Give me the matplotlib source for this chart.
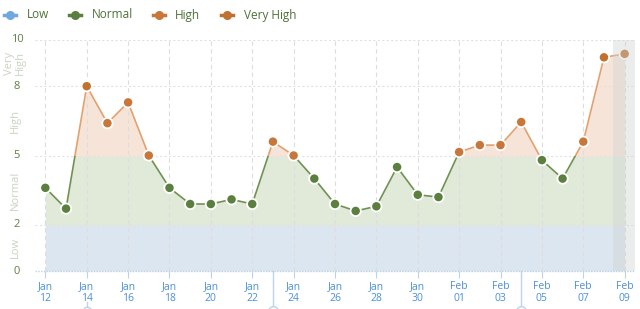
import numpy as np
import matplotlib
matplotlib.use("Agg")
import matplotlib.pyplot as plt
from matplotlib.patches import Rectangle
from matplotlib.lines import Line2D
from matplotlib.transforms import blended_transform_factory

plt.rcParams['font.family'] = ['Open Sans', 'DejaVu Sans']

# --- dados (um ponto por dia, 12 jan -> 09 fev) ---
day_labels = ['Jan\n12', 'Jan\n13', 'Jan\n14', 'Jan\n15', 'Jan\n16', 'Jan\n17', 'Jan\n18',
              'Jan\n19', 'Jan\n20', 'Jan\n21', 'Jan\n22', 'Jan\n23', 'Jan\n24', 'Jan\n25',
              'Jan\n26', 'Jan\n27', 'Jan\n28', 'Jan\n29', 'Jan\n30', 'Jan\n31', 'Feb\n01',
              'Feb\n02', 'Feb\n03', 'Feb\n04', 'Feb\n05', 'Feb\n06', 'Feb\n07', 'Feb\n08',
              'Feb\n09']
values = [3.6, 2.7, 8.0, 6.4, 7.3, 5.0, 3.6, 2.9, 2.9, 3.1, 2.9, 5.6, 5.0, 4.0,
          2.9, 2.6, 2.8, 4.5, 3.3, 3.2, 5.15, 5.45, 5.45, 6.45, 4.8, 4.0, 5.6, 9.25, 9.4]

# faixas: nome, limite inferior, limite superior
band_names = ['Low', 'Normal', 'High', 'Very High']
band_low = [0, 2, 5, 8]
band_high = [2, 5, 8, 10]
band_axis_labels = ['Low', 'Normal', 'High', 'Very\nHigh']
y_ticks = [0, 2, 5, 8, 10]
event_days = [11, 23]   # marcadores verticais
small_event_days = [2]

# --- estilos ---
fill_colors = ['#dce6f0', '#e1e9d9', '#f6e4d8', '#f6e4d8']
marker_colors = ['#6fa8dc', '#5b7f3f', '#c8763a', '#c0702f']
line_green = '#6f9253'
line_orange = '#e3a16f'
tick_blue = '#4a90d9'
num_green = '#5d8040'
band_txt = '#c9d3c3'

x = np.arange(len(values))
y = np.array(values)

fig = plt.figure(figsize=(6.4, 3.09), dpi=100)
ax = fig.add_axes([35 / 640, (309 - 271) / 309, 600 / 640, 231 / 309])
ax.set_xlim(-0.5, len(values) - 0.5)
ax.set_ylim(0, 10)

# preenchimento por faixa (recortado por retângulo)
for lo, hi, c in zip(band_low, band_high, fill_colors):
    poly = ax.fill_between(x, 0, y, color=c, lw=0, zorder=1)
    clip = Rectangle((-1, lo), len(values) + 2, hi - lo, transform=ax.transData)
    poly.set_clip_path(clip)

# linha colorida pelo limiar de 5
for lo, hi, c in [(0, 5, line_green), (5, 10, line_orange)]:
    ln, = ax.plot(x, y, color=c, lw=1.2, zorder=3)
    ln.set_clip_path(Rectangle((-1, lo), len(values) + 2, hi - lo, transform=ax.transData))

# pontos
def band_index(v):
    for i, hi in enumerate(band_high):
        if v < hi:
            return i
    return len(band_high) - 1

pt_colors = [marker_colors[band_index(v)] for v in values]
ax.scatter(x, y, s=55, c=pt_colors, edgecolors='white', linewidths=1.3, zorder=4)

# região destacada à direita
ax.axvspan(len(values) - 1.55, len(values) - 0.5, color='#cfd4d4', alpha=0.4, lw=0, zorder=5)

# grades
tick_pos = x[::2]
for xp in tick_pos:
    ax.axvline(xp, color='#dddddd', lw=0.8, ls=(0, (4, 3)), zorder=2)
for yp in y_ticks[1:]:
    ax.axhline(yp, color='#e2e2e2', lw=0.8, ls=(0, (2, 2)), zorder=2)

for s in ax.spines.values():
    s.set_visible(False)
ax.axhline(0, color='#bcd3ea', lw=1.0, ls=(0, (1, 1)), zorder=6, clip_on=False)

ax.set_xticks(tick_pos)
ax.set_xticklabels(day_labels[::2], color=tick_blue, fontsize=7.5, linespacing=1.1)
ax.tick_params(axis='x', length=5, color='#bcd3ea', pad=2)
ax.set_yticks([])

# rótulos do eixo y (números e faixas)
trans = blended_transform_factory(fig.transFigure, ax.transData)
for t in y_ticks:
    ax.text(17 / 640, t, str(t), transform=trans, ha='center', va='center',
            color=num_green, fontsize=8)
for lo, hi, lab in zip(band_low, band_high, band_axis_labels):
    ax.text(15 / 640, (lo + hi) / 2, lab, transform=trans, ha='center', va='center',
            rotation=90, color=band_txt, fontsize=8, linespacing=0.95)

# marcadores de eventos
ev_trans = blended_transform_factory(ax.transData, ax.transAxes)
for d in event_days:
    ax.plot([d, d], [0, -0.16], transform=ev_trans, color='#bcd3ea', lw=1, clip_on=False)
    ax.plot([d], [-0.172], transform=ev_trans, marker='o', ms=7, mfc='white',
            mec='#bcd3ea', clip_on=False)
for d in small_event_days:
    ax.plot([d, d], [-0.135, -0.16], transform=ev_trans, color='#bcd3ea', lw=1, clip_on=False)
    ax.plot([d], [-0.172], transform=ev_trans, marker='o', ms=6, mfc='white',
            mec='#bcd3ea', clip_on=False)

# legenda (posicionada manualmente, em pixels)
leg_marker_x = [10, 75, 159, 227]
leg_text_x = [27, 92, 175, 244]
leg_y = 1 - 15 / 309
for mx, tx, c, name in zip(leg_marker_x, leg_text_x, marker_colors, band_names):
    fig.add_artist(Line2D([(mx - 6) / 640, (mx + 6) / 640], [leg_y, leg_y],
                          transform=fig.transFigure, color=c, lw=2.5))
    fig.add_artist(Line2D([mx / 640], [leg_y], transform=fig.transFigure,
                          marker='o', ms=5.5, color=c))
    fig.text(tx / 640, leg_y, name, ha='left', va='center', fontsize=8.5,
             color='#4f7038')

fig.savefig('out.png', dpi=100)
